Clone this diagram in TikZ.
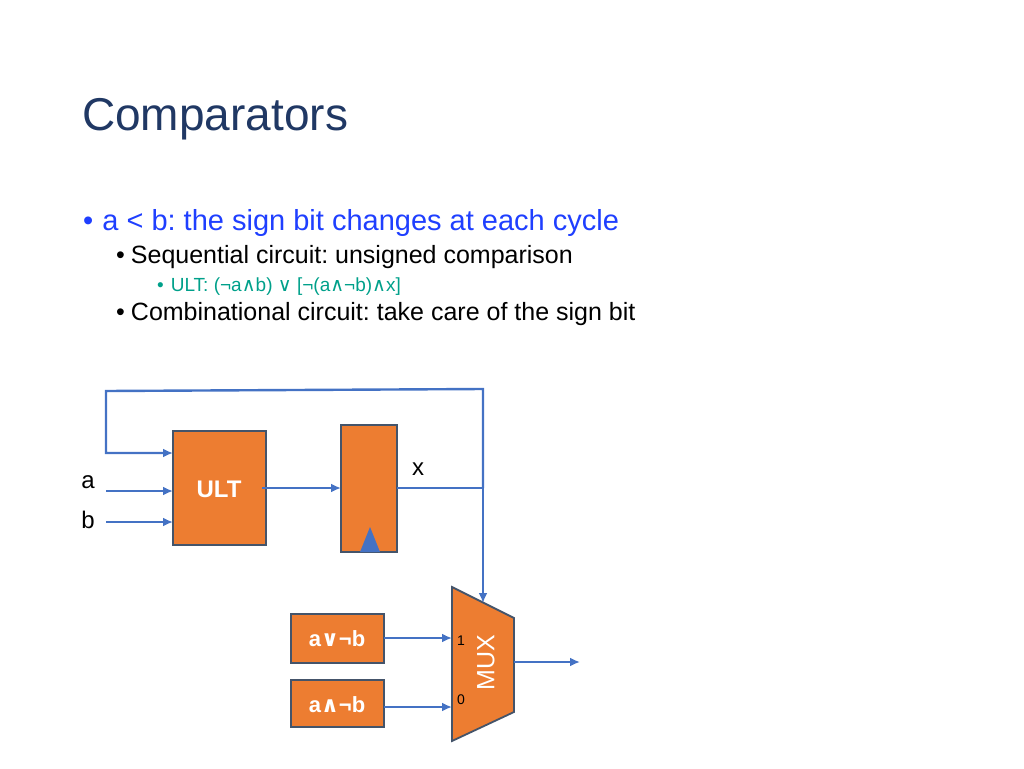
\documentclass[tikz,border=0pt]{standalone}
\usepackage{fontspec}
\setmainfont{Liberation Sans}
\newfontfamily\djvfont{DejaVu Sans}
\newcommand{\myA}{{\djvfont∧}}
\newcommand{\myV}{{\djvfont∨}}
\definecolor{org}{HTML}{ED7D31}
\definecolor{wire}{HTML}{4472C4}
\definecolor{ttl}{HTML}{203864}
\definecolor{bl}{HTML}{1F3FFF}
\definecolor{tl}{HTML}{00A08A}
\definecolor{edge}{HTML}{44546A}
\usetikzlibrary{arrows.meta}
\frenchspacing
\begin{document}
\begin{tikzpicture}[x=1pt,y=-1pt,
  blk/.style={draw=edge,fill=org,line width=1.8pt},
  w/.style={draw=wire,line width=2.4pt},
  wa/.style={w,-{Latex[length=10pt,width=9pt]}},
  lbl/.style={font=\fontsize{20}{24}\selectfont,text=white},
  txt/.style={anchor=base west,inner sep=0pt}]
\useasboundingbox (0,0) rectangle (1024,768);
\node[txt,text=ttl,font=\fontsize{46}{50}\selectfont] (title) at (82,130) {Comparators};
\node[txt,text=bl,font=\fontsize{29}{32}\selectfont] (l1) at (83,230) {•\hspace{9pt}a < b: the sign bit changes at each cycle};
\node[txt,font=\fontsize{25}{28}\selectfont] (l2) at (116,263) {•\hspace{6pt}Sequential circuit: unsigned comparison};
\node[txt,text=tl,font=\fontsize{19}{22}\selectfont] (l3) at (157,291) {•\hspace{7pt}ULT: (¬a\myA b) \myV{} [¬(a\myA¬b)\myA x]};
\node[txt,font=\fontsize{25}{28}\selectfont] (l4) at (116,320) {•\hspace{6pt}Combinational circuit: take care of the sign bit};
% blocks
\draw[blk] (173,431) rectangle (266,545);
\node[lbl,font=\fontsize{24}{28}\selectfont\bfseries] (ult) at (219,489) {ULT};
\draw[blk] (341,425) rectangle (397,552);
\fill[wire] (360,552) -- (370,527) -- (380,552) -- cycle;
\draw[blk] (291,614) rectangle (384,663);
\node[lbl,font=\fontsize{22}{26}\selectfont\bfseries] (or) at (337,639) {a\myV¬b};
\draw[blk] (291,680) rectangle (384,727);
\node[lbl,font=\fontsize{22}{26}\selectfont\bfseries] (and) at (337,705) {a\myA¬b};
\draw[blk] (452,587) -- (514,618) -- (514,712) -- (452,741) -- cycle;
\node[lbl,rotate=90,font=\fontsize{25}{28}\selectfont] (mux) at (486,663) {MUX};
\node[font=\fontsize{14}{16}\selectfont] (one) at (461,641) {1};
\node[font=\fontsize{14}{16}\selectfont] (zero) at (461,700) {0};
% labels
\node[font=\fontsize{24}{28}\selectfont] (a) at (88,482) {a};
\node[font=\fontsize{24}{28}\selectfont] (b) at (88,520) {b};
\node[font=\fontsize{24}{28}\selectfont] (x) at (418,469) {x};
% wires
\coordinate (j) at (483,488);
\draw[w] (397,488) -- (j);
\draw[wa] (j) -- (483,389) -- (106,391) -- (106,453) -- (173,453);
\draw[wa] (j) -- (483,603);
\draw[wa] (106,491) -- (173,491);
\draw[wa] (106,522) -- (173,522);
\draw[wa] (262,488) -- (341,488);
\draw[wa] (384,638) -- (452,638);
\draw[wa] (384,707) -- (452,707);
\draw[wa] (514,662) -- (580,662);
\end{tikzpicture}
\end{document}
